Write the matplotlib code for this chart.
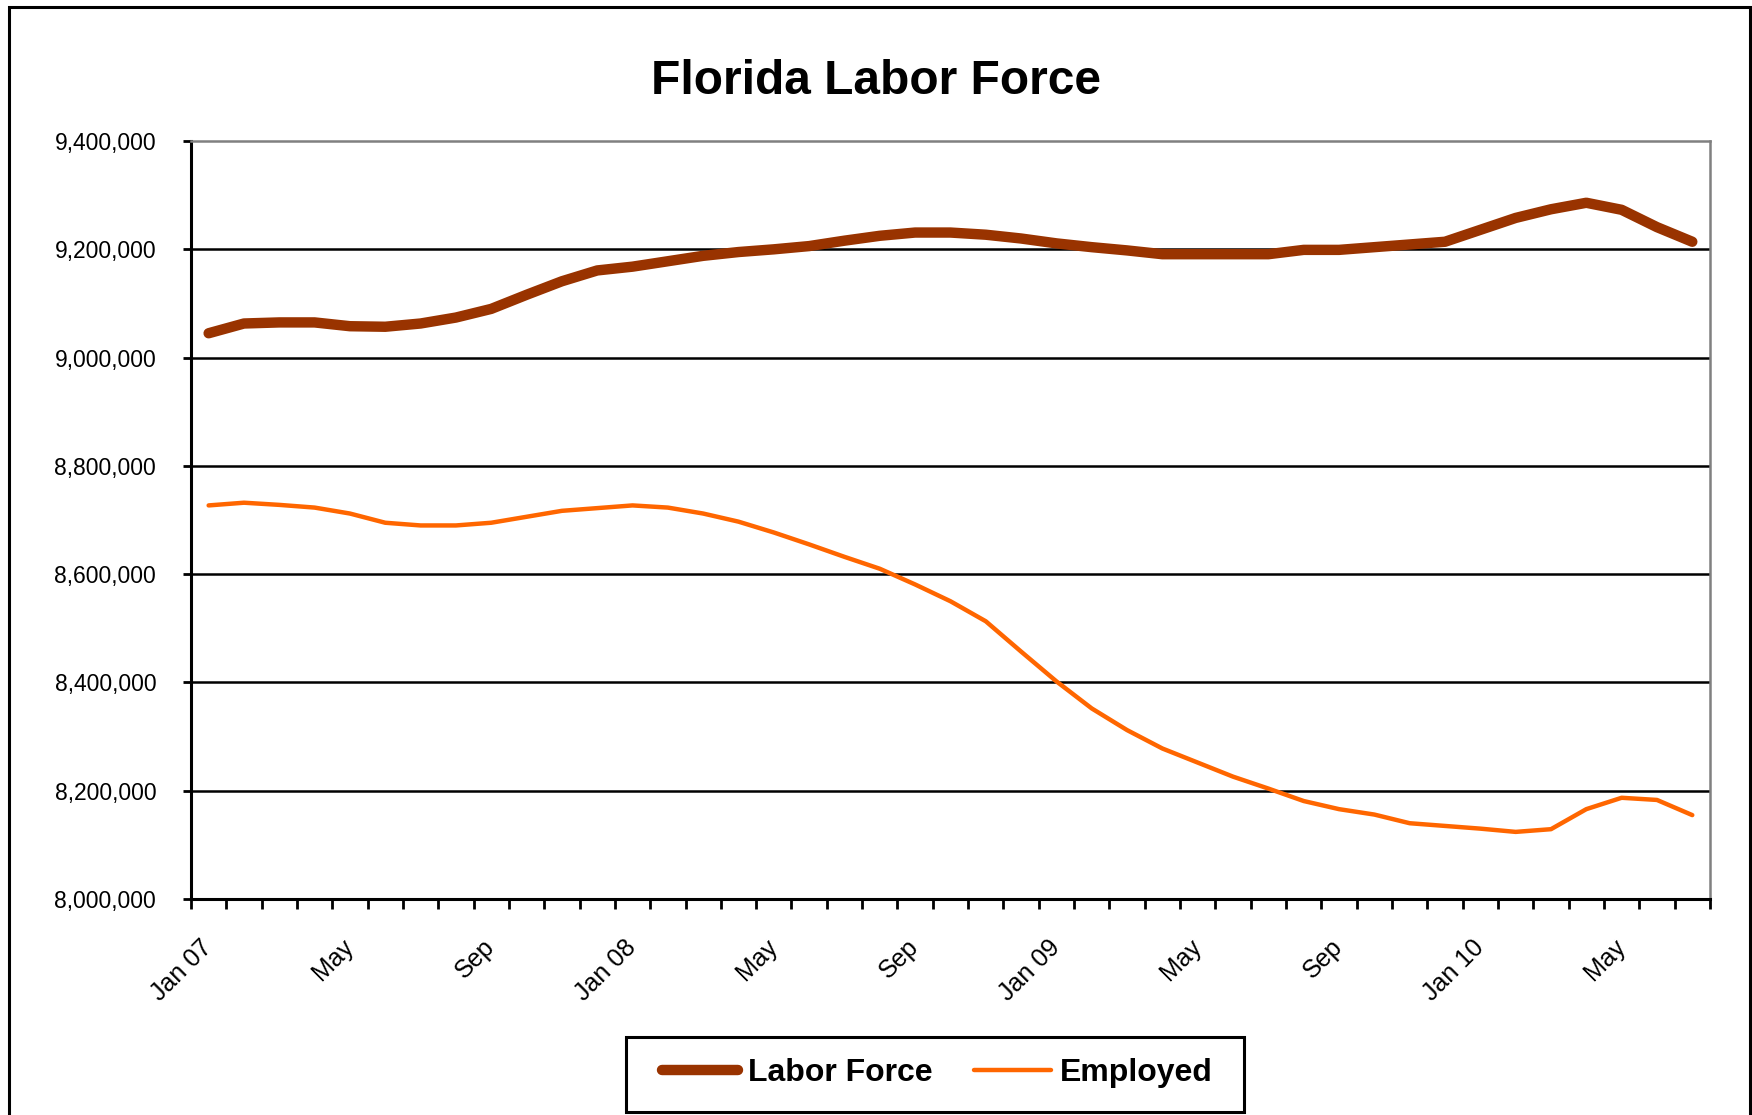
import numpy as np
import matplotlib
matplotlib.use('Agg')
import matplotlib.pyplot as plt
from matplotlib.ticker import FuncFormatter
from matplotlib.patches import Rectangle

plt.rcParams['font.family'] = ['Liberation Sans', 'DejaVu Sans']

# Данные: месяцы Jan 2007 - Jul 2010
labor_force = [9045, 9063, 9065, 9065, 9058, 9057, 9063, 9074, 9090, 9116,
               9141, 9161, 9168, 9178, 9188, 9195, 9200, 9206, 9216, 9225,
               9231, 9231, 9227, 9220, 9211, 9204, 9198, 9191, 9191, 9191,
               9191, 9199, 9199, 9204, 9209, 9214, 9236, 9258, 9274, 9286,
               9273, 9241, 9214]
employed = [8727, 8732, 8728, 8723, 8712, 8695, 8690, 8690, 8695, 8706,
            8717, 8722, 8727, 8723, 8712, 8697, 8677, 8655, 8632, 8610,
            8581, 8550, 8513, 8457, 8402, 8352, 8312, 8278, 8252, 8226,
            8204, 8181, 8166, 8156, 8140, 8135, 8130, 8124, 8129, 8166,
            8187, 8183, 8155]
labor_force = np.array(labor_force) * 1000
employed = np.array(employed) * 1000

tick_labels = ['Jan 07', 'May', 'Sep', 'Jan 08', 'May', 'Sep',
               'Jan 09', 'May', 'Sep', 'Jan 10', 'May']
y_ticks = [8000000, 8200000, 8400000, 8600000, 8800000, 9000000, 9200000, 9400000]

x = np.arange(len(labor_force))

fig = plt.figure(figsize=(17.52, 11.15), dpi=100)
ax = fig.add_axes([0.109, 0.1937, 0.867, 0.6798])

# рамка вокруг всей диаграммы
fig.patches.append(Rectangle((0.0054, -0.02), 0.9935, 1.0137, transform=fig.transFigure,
                             fill=False, edgecolor='black', linewidth=2.2))

# сетка
for yv in y_ticks[1:-1]:
    ax.axhline(yv, color='black', linewidth=1.8, zorder=1)

ax.plot(x, labor_force, color='#993300', linewidth=7.5, solid_capstyle='round',
        label='Labor Force', zorder=3)
ax.plot(x, employed, color='#FF6600', linewidth=3.2, solid_capstyle='round',
        label='Employed', zorder=3)

ax.set_xlim(-0.5, len(x) - 0.5)
ax.set_ylim(y_ticks[0], y_ticks[-1])

ax.set_yticks(y_ticks)
ax.yaxis.set_major_formatter(FuncFormatter(lambda v, p: f'{int(v):,}'))
ax.tick_params(axis='y', direction='out', length=6, width=2, pad=19, labelsize=16.5)

ax.set_xticks(x[::4])
ax.set_xticklabels(tick_labels, rotation=45, ha='right', va='center',
                   rotation_mode='anchor', fontsize=18)
ax.set_xticks(np.arange(-0.5, len(x)), minor=True)
ax.tick_params(axis='x', which='major', length=0, pad=32)
ax.tick_params(axis='x', which='minor', direction='out', length=7, width=2)

for s in ['left', 'bottom']:
    ax.spines[s].set_color('black')
    ax.spines[s].set_linewidth(2.2)
for s in ['top', 'right']:
    ax.spines[s].set_color('#808080')
    ax.spines[s].set_linewidth(1.8)

fig.text(0.5, 0.927, 'Florida Labor Force', ha='center', va='center',
         fontsize=34.5, fontweight='bold')

# легенда без рамки + отдельная рамка
leg = ax.legend(loc='center', bbox_to_anchor=(0.535, 0.0375), bbox_transform=fig.transFigure,
                ncol=2, frameon=False, handlelength=2.4,
                handletextpad=0.3, columnspacing=1.3,
                prop={'size': 23, 'weight': 'bold'})
fig.patches.append(Rectangle((626 / 1752, 3 / 1115), 618 / 1752, 75 / 1115,
                             transform=fig.transFigure, fill=False,
                             edgecolor='black', linewidth=2.2))

fig.savefig('out.png', dpi=100)
